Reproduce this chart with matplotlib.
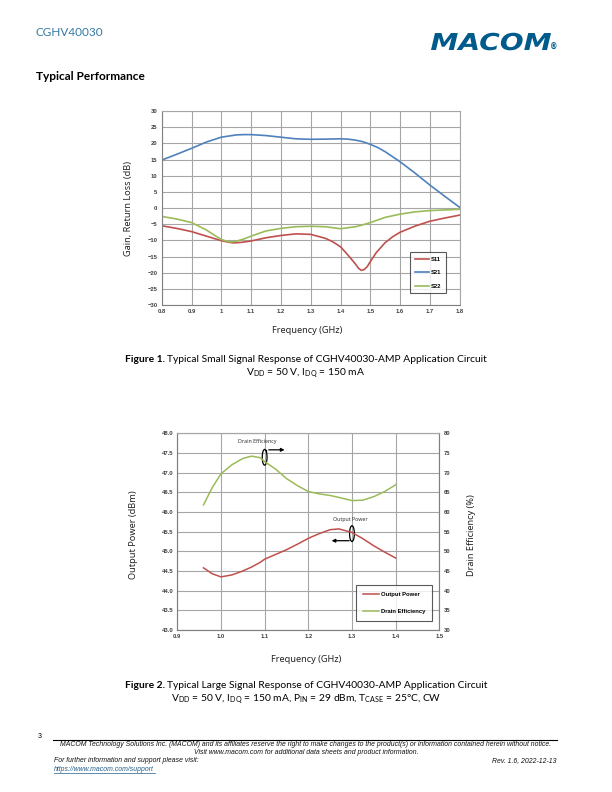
import matplotlib
matplotlib.use("Agg")
import matplotlib.pyplot as plt
from matplotlib.patches import Ellipse, PathPatch
from matplotlib.textpath import TextPath
from matplotlib.font_manager import FontProperties
from matplotlib.transforms import Affine2D, IdentityTransform

# Figure 1 - small signal S-parameters (dB) vs frequency (GHz)
s21_freq = [0.8, 0.825, 0.85, 0.9, 0.95, 1.0, 1.05, 1.075, 1.1, 1.15, 1.2, 1.25, 1.3, 1.35,
            1.4, 1.425, 1.45, 1.475, 1.5, 1.525, 1.55, 1.6, 1.65, 1.7, 1.75, 1.8]
s21 = [14.8, 15.7, 16.6, 18.45, 20.4, 21.9, 22.6, 22.7, 22.7, 22.4, 21.9, 21.4, 21.25, 21.3,
       21.4, 21.3, 21.0, 20.5, 19.7, 18.7, 17.4, 14.3, 10.8, 7.1, 3.6, 0.2]

s11_freq = [0.8, 0.85, 0.9, 0.95, 1.0, 1.02, 1.04, 1.07, 1.1, 1.15, 1.2, 1.25, 1.3, 1.35,
            1.375, 1.4, 1.415, 1.43, 1.45, 1.46, 1.47, 1.48, 1.49, 1.5, 1.52, 1.55, 1.575,
            1.6, 1.65, 1.7, 1.75, 1.8]
s11 = [-5.5, -6.3, -7.3, -8.7, -10.1, -10.5, -10.8, -10.6, -10.2, -9.2, -8.5, -8.0, -8.15,
       -9.4, -10.5, -12.0, -13.5, -15.1, -17.3, -18.6, -19.3, -19.0, -18.1, -16.6, -13.8,
       -10.7, -8.9, -7.5, -5.6, -4.1, -3.1, -2.2]

s22_freq = [0.8, 0.85, 0.9, 0.95, 0.975, 1.0, 1.015, 1.03, 1.05, 1.075, 1.1, 1.15, 1.2,
            1.25, 1.3, 1.35, 1.4, 1.45, 1.475, 1.5, 1.525, 1.55, 1.6, 1.65, 1.7, 1.75, 1.8]
s22 = [-2.6, -3.4, -4.5, -6.8, -8.3, -9.7, -10.2, -10.5, -10.3, -9.6, -8.7, -7.1, -6.3,
       -5.8, -5.65, -5.8, -6.4, -5.8, -5.2, -4.5, -3.7, -2.9, -1.9, -1.2, -0.8, -0.6, -0.4]

x1_ticks = [0.8, 0.9, 1.0, 1.1, 1.2, 1.3, 1.4, 1.5, 1.6, 1.7, 1.8]
x1_labels = ["0.8", "0.9", "1", "1.1", "1.2", "1.3", "1.4", "1.5", "1.6", "1.7", "1.8"]
y1_ticks = list(range(-30, 31, 5))

# Figure 2 - large signal
ls_freq = [0.96, 0.98, 1.0, 1.025, 1.05, 1.07, 1.09, 1.1, 1.125, 1.15, 1.175, 1.2, 1.225,
           1.25, 1.27, 1.3, 1.325, 1.35, 1.375, 1.4]
pout = [44.58, 44.43, 44.35, 44.4, 44.5, 44.6, 44.72, 44.8, 44.92, 45.04, 45.18, 45.33,
        45.45, 45.55, 45.57, 45.48, 45.32, 45.14, 44.98, 44.83]
eff = [61.8, 66.2, 69.7, 72.0, 73.6, 74.2, 73.8, 72.8, 70.9, 68.5, 66.7, 65.2, 64.6,
       64.2, 63.7, 62.9, 63.0, 63.9, 65.2, 66.9]

x2_ticks = [0.9, 1.0, 1.1, 1.2, 1.3, 1.4, 1.5]
y2_ticks = [43.0, 43.5, 44.0, 44.5, 45.0, 45.5, 46.0, 46.5, 47.0, 47.5, 48.0]
y2r_ticks = list(range(30, 81, 5))

W, H = 612, 792
RED = "#c0504d"
BLUE = "#4f81bd"
GREEN = "#9bbb59"
GRID = "#a6a6a6"
TICKC = "#404040"


def P(x, y):
    return x / W, 1 - y / H


fig = plt.figure(figsize=(W / 100, H / 100), dpi=100)
renderer = fig.canvas.get_renderer()

tickfont = dict(family="Liberation Sans", weight="bold", size=4.2)
capfont = "Lato"
CAPSIZE = 7.4
LABSIZE = 6.6


def caption(y, bold, rest, size=CAPSIZE):
    # bold lead-in followed by regular text, centred as one line
    tb = fig.text(0, 0, bold + " ", family=capfont, weight="bold", size=size)
    tr_ = fig.text(0, 0, rest, family=capfont, size=size)
    wb = tb.get_window_extent(renderer).width
    wr = tr_.get_window_extent(renderer).width
    x0 = W / 2 - (wb + wr) / 2
    tb.set_position(P(x0, y))
    tb.set_va("center")
    tr_.set_position(P(x0 + wb, y))
    tr_.set_va("center")


# ---- Figure 1 ----
ax1 = fig.add_axes([161.7 / W, 1 - 305 / H, 298 / W, 194 / H])
ax1.plot(s11_freq, s11, color=RED, lw=1.2, label="S11")
ax1.plot(s21_freq, s21, color=BLUE, lw=1.2, label="S21")
ax1.plot(s22_freq, s22, color=GREEN, lw=1.2, label="S22")
ax1.set_xlim(0.8, 1.8)
ax1.set_ylim(-30, 30)
ax1.set_xticks(x1_ticks)
ax1.set_xticklabels(x1_labels)
ax1.set_yticks(y1_ticks)
ax1.grid(True, color=GRID, lw=0.8)
ax1.set_axisbelow(True)
ax1.tick_params(length=0, pad=3, labelcolor=TICKC)
for lab in ax1.get_xticklabels() + ax1.get_yticklabels():
    lab.set_fontproperties(FontProperties(**tickfont))
for sp in ax1.spines.values():
    sp.set_color(GRID)
    sp.set_linewidth(0.8)
ax1.spines["left"].set_color("#808080")
ax1.spines["bottom"].set_color("#808080")
leg1 = ax1.legend(loc="lower right", bbox_to_anchor=(0.965, 0.045), frameon=True,
                  fancybox=False, prop=FontProperties(**tickfont), handlelength=2.4,
                  labelspacing=1.45, borderpad=0.8, handletextpad=0.4)
leg1.get_frame().set_edgecolor("#303030")
leg1.get_frame().set_linewidth(0.8)

fig.text(*P(128, 208), "Gain, Return Loss (dB)", rotation=90, ha="center", va="center",
         family="Noto Sans", size=LABSIZE, color="#222222")
fig.text(*P(307, 330), "Frequency (GHz)", ha="center", va="center",
         family="Noto Sans", size=LABSIZE, color="#222222")

# ---- Figure 2 ----
ax2 = fig.add_axes([177.3 / W, 1 - 630 / H, 262 / W, 196.7 / H])
ax3 = ax2.twinx()
l1, = ax2.plot(ls_freq, pout, color=RED, lw=1.1, label="Output Power")
l2, = ax3.plot(ls_freq, eff, color=GREEN, lw=1.1, label="Drain Efficiency")
ax2.set_xlim(0.9, 1.5)
ax2.set_ylim(43, 48)
ax3.set_ylim(30, 80)
ax2.set_xticks(x2_ticks)
ax2.set_xticklabels(["%.1f" % v for v in x2_ticks])
ax2.set_yticks(y2_ticks)
ax2.set_yticklabels(["%.1f" % v for v in y2_ticks])
ax3.set_yticks(y2r_ticks)
ax2.grid(True, color=GRID, lw=0.8)
ax2.set_axisbelow(True)
for a in (ax2, ax3):
    a.tick_params(length=0, pad=3, labelcolor=TICKC)
    for lab in a.get_xticklabels() + a.get_yticklabels():
        lab.set_fontproperties(FontProperties(**tickfont))
    for sp in a.spines.values():
        sp.set_color(GRID)
        sp.set_linewidth(0.8)
ax3.spines["left"].set_color("#808080")
ax3.spines["bottom"].set_color("#808080")
ax3.spines["right"].set_color("#808080")

# callouts
ax2.add_patch(Ellipse((1.1, 47.39), 0.011, 0.40, fill=False, ec="black", lw=0.9))
ax2.annotate("", xy=(1.152, 47.58), xytext=(1.103, 47.58),
             arrowprops=dict(arrowstyle="-|>", color="black", lw=0.9, mutation_scale=5))
ax2.plot([1.103, 1.103], [47.55, 47.58], color="black", lw=0.9)
ax2.text(1.083, 47.78, "Drain Efficiency", ha="center", va="center",
         family="Noto Sans", size=3.8, color="#333333")
ax2.add_patch(Ellipse((1.3, 45.45), 0.011, 0.40, fill=False, ec="black", lw=0.9))
ax2.annotate("", xy=(1.247, 45.27), xytext=(1.3, 45.27),
             arrowprops=dict(arrowstyle="-|>", color="black", lw=0.9, mutation_scale=5))
ax2.text(1.297, 45.81, "Output Power", ha="center", va="center",
         family="Noto Sans", size=3.8, color="#333333")

leg2 = ax3.legend([l1, l2], ["Output Power", "Drain Efficiency"], loc="lower right",
                  bbox_to_anchor=(0.984, 0.03), frameon=True, fancybox=False,
                  prop=FontProperties(**tickfont), handlelength=2.8,
                  labelspacing=2.0, borderpad=1.2, handletextpad=0.3)
leg2.get_frame().set_edgecolor("#303030")
leg2.get_frame().set_linewidth(0.8)

fig.text(*P(133, 535), "Output Power (dBm)", rotation=90, ha="center", va="center",
         family="Noto Sans", size=LABSIZE, color="#222222")
fig.text(*P(472, 535), "Drain Efficiency (%)", rotation=90, ha="center", va="center",
         family="Noto Sans", size=LABSIZE, color="#222222")
fig.text(*P(306, 659), "Frequency (GHz)", ha="center", va="center",
         family="Noto Sans", size=LABSIZE, color="#222222")

# ---- page text ----
fig.text(*P(36, 32), "CGHV40030", ha="left", va="center", family="Lato",
         size=8.5, color="#3579a3")
fig.text(*P(36, 76), "Typical Performance", ha="left", va="center", family="Lato",
         weight="bold", size=8.6, color="black")

# MACOM wordmark
tp = TextPath((0, 0), "MACOM", size=1,
              prop=FontProperties(family="DejaVu Sans", weight="bold", style="italic"))
ext = tp.get_extents()
sx = 120 / ext.width
sy = 17 / 0.73
tr = Affine2D().translate(-ext.x0, 0).scale(sx, sy).translate(431, H - 50) + IdentityTransform()
fig.patches.append(PathPatch(tp, transform=tr, fc="#005a8b", ec="none"))
fig.text(*P(554, 47.5), "®", ha="center", va="center", size=5.5, weight="bold",
         color="#005a8b")

plt.rcParams["mathtext.fontset"] = "custom"
plt.rcParams["mathtext.rm"] = "Lato"
caption(359, "Figure 1.", "Typical Small Signal Response of CGHV40030-AMP Application Circuit")
fig.text(*P(306, 373), "V$_{\\mathregular{DD}}$ = 50 V, I$_{\\mathregular{DQ}}$ = 150 mA",
         ha="center", va="center", family=capfont, size=CAPSIZE)
caption(686, "Figure 2.", "Typical Large Signal Response of CGHV40030-AMP Application Circuit")
fig.text(*P(306, 699), "V$_{\\mathregular{DD}}$ = 50 V, I$_{\\mathregular{DQ}}$ = 150 mA, "
         "P$_{\\mathregular{IN}}$ = 29 dBm, T$_{\\mathregular{CASE}}$ = 25°C, CW",
         ha="center", va="center", family=capfont, size=CAPSIZE)

# footer
fig.text(*P(40, 737), "3", ha="center", va="center", family="Liberation Sans", size=5)
fig.add_artist(plt.Line2D([53 / W, 557 / W], [1 - 740 / H, 1 - 740 / H],
                          color="black", lw=0.8))
ftr = dict(family="Liberation Sans", style="italic", size=4.95, color="#111111")
fig.text(*P(306, 744.5), "MACOM Technology Solutions Inc. (MACOM) and its affiliates reserve "
         "the right to make changes to the product(s) or information contained herein "
         "without notice.", ha="center", va="center", **ftr)
fig.text(*P(306, 752.5), "Visit www.macom.com for additional data sheets and product "
         "information.", ha="center", va="center", **ftr)
fig.text(*P(54, 761), "For further information and support please visit:", ha="left",
         va="center", **ftr)
fig.text(*P(557, 761), "Rev. 1.6, 2022-12-13", ha="right", va="center", **ftr)
fig.text(*P(54, 769.5), "https://www.macom.com/support", ha="left", va="center",
         family="Liberation Sans", style="italic", size=4.95, color="#1f5f8b")
fig.add_artist(plt.Line2D([54 / W, 155 / W], [1 - 772.5 / H, 1 - 772.5 / H],
                          color="#1f5f8b", lw=0.5))

fig.savefig("out.png", dpi=100)
